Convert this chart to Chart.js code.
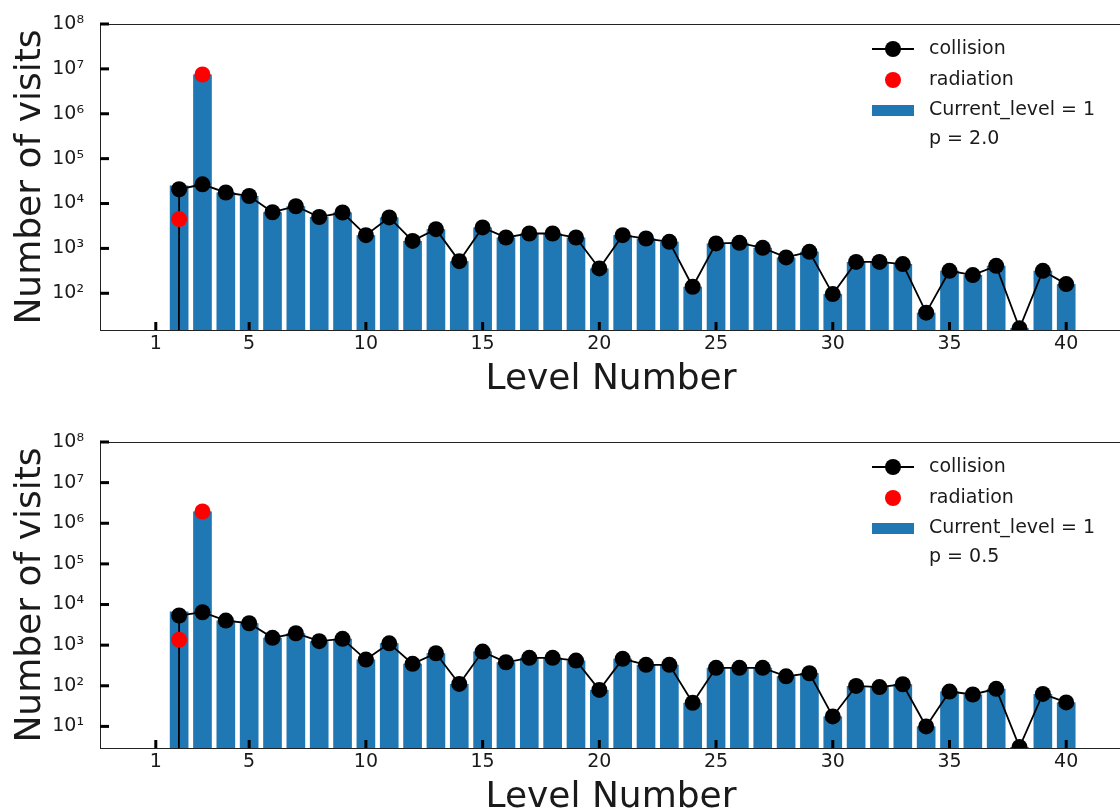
<!DOCTYPE html>
<html>
<head>
<meta charset="utf-8">
<script src="https://cdn.jsdelivr.net/npm/chart.js@4.4.1/dist/chart.umd.min.js"></script>
<style>
    html, body { margin: 0; padding: 0; overflow: hidden; background: #fff; }
    canvas { position: absolute; left: 0; }
</style>
</head>
<body>
<canvas id="topChart" width="1130" height="418" style="top:0px"></canvas>
<canvas id="bottomChart" width="1130" height="418" style="top:418px"></canvas>
<script>
// levels 1..40, level 1 is the current level (no visits)
const levels = [1, 2, 3, 4, 5, 6, 7, 8, 9, 10, 11, 12, 13, 14, 15, 16, 17, 18, 19, 20,
    21, 22, 23, 24, 25, 26, 27, 28, 29, 30, 31, 32, 33, 34, 35, 36, 37, 38, 39, 40];
const xTicks = [1, 5, 10, 15, 20, 25, 30, 35, 40];

// p = 2.0
const collisionTop = [0, 20800, 26800, 17600, 14700, 6400, 8700, 5000, 6300, 1970,
    4900, 1470, 2680, 520, 2930, 1750, 2150, 2150, 1750, 358,
    1970, 1660, 1400, 140, 1290, 1330, 1030, 630, 840, 96,
    500, 500, 447, 37, 317, 254, 409, 16.6, 317, 160];
const radiationTop = [0, 4500, 7500000, 0, 0, 0, 0, 0, 0, 0,
    0, 0, 0, 0, 0, 0, 0, 0, 0, 0,
    0, 0, 0, 0, 0, 0, 0, 0, 0, 0,
    0, 0, 0, 0, 0, 0, 0, 0, 0, 0];
const yTicksTop = [1e2, 1e3, 1e4, 1e5, 1e6, 1e7, 1e8];

// p = 0.5
const collisionBottom = [0, 5360, 6460, 4030, 3460, 1510, 1960, 1250, 1430, 442,
    1110, 346, 631, 111, 695, 379, 487, 487, 418, 79,
    460, 327, 327, 38, 276, 276, 276, 171, 203, 17.6,
    99, 93, 109, 10, 72, 61, 84, 3.1, 63, 39];
const radiationBottom = [0, 1350, 1950000, 0, 0, 0, 0, 0, 0, 0,
    0, 0, 0, 0, 0, 0, 0, 0, 0, 0,
    0, 0, 0, 0, 0, 0, 0, 0, 0, 0,
    0, 0, 0, 0, 0, 0, 0, 0, 0, 0];
const yTicksBottom = [1e1, 1e2, 1e3, 1e4, 1e5, 1e6, 1e7, 1e8];

Chart.defaults.font.family = 'DejaVu Sans';
Chart.defaults.color = '#1a1a1a';

const SUP = ['⁰', '¹', '²', '³', '⁴', '⁵', '⁶', '⁷', '⁸', '⁹'];
function powLabel(v) {
    const e = Math.round(Math.log10(v));
    return '10' + String(e).split('').map(d => SUP[+d]).join('');
}

// spines on all sides + inward tick marks
const axesDecor = {
    id: 'axesDecor',
    afterDatasetsDraw(chart) {
        const { ctx, chartArea: a, scales: { x, y } } = chart;
        ctx.save();
        ctx.strokeStyle = '#222';
        ctx.lineWidth = 1;
        ctx.strokeRect(a.left + 0.5, a.top + 0.5, a.right - a.left - 1, a.bottom - a.top);
        ctx.fillStyle = '#000';
        x.ticks.forEach(t => {
            const px = x.getPixelForValue(t.value);
            ctx.fillRect(px - 1.5, a.bottom - 8, 3, 8);
        });
        y.ticks.forEach(t => {
            const py = y.getPixelForValue(t.value);
            ctx.fillRect(a.left, py - 1.5, 9, 3);
        });
        ctx.restore();
    }
};

// legend drawn inside the axes, top right
const boxLegend = {
    id: 'boxLegend',
    afterDraw(chart, args, opts) {
        const { ctx, chartArea: a } = chart;
        const x0 = a.left + 772, x1 = x0 + 42, xm = (x0 + x1) / 2, tx = x0 + 57;
        const rows = [a.top + 25, a.top + 56, a.top + 86, a.top + 115];
        ctx.save();
        // collision
        ctx.strokeStyle = '#000';
        ctx.lineWidth = 1.8;
        ctx.beginPath();
        ctx.moveTo(x0, rows[0]);
        ctx.lineTo(x1, rows[0]);
        ctx.stroke();
        ctx.fillStyle = '#000';
        ctx.beginPath();
        ctx.arc(xm, rows[0], 8, 0, Math.PI * 2);
        ctx.fill();
        // radiation
        ctx.fillStyle = '#ff0000';
        ctx.beginPath();
        ctx.arc(xm, rows[1], 8, 0, Math.PI * 2);
        ctx.fill();
        // bars
        ctx.fillStyle = '#1f77b4';
        ctx.fillRect(x0, rows[2] - 5, x1 - x0, 11);

        ctx.fillStyle = '#1a1a1a';
        ctx.font = '19px "DejaVu Sans"';
        ctx.textBaseline = 'middle';
        ctx.textAlign = 'left';
        opts.labels.forEach((txt, i) => ctx.fillText(txt, tx, rows[i]));
        ctx.restore();
    }
};

function drawPanel(canvasId, collision, radiation, yMin, yTicks, pLabel) {
    const bars = levels.map((lv, i) => ({ x: lv, y: collision[i] + radiation[i] }));
    // matplotlib clips non-positive values on a log axis to a tiny number,
    // which is why the line drops straight down at level 2
    const line = levels.map((lv, i) => ({ x: lv, y: collision[i] > 0 ? collision[i] : 1e-300 }));
    const rad = levels.map((lv, i) => ({ x: lv, y: radiation[i] })).filter(p => p.y > 0);

    const ctx = document.getElementById(canvasId).getContext('2d');
    return new Chart(ctx, {
        type: 'bar',
        data: {
            datasets: [{
                type: 'line',
                label: 'collision',
                data: line,
                borderColor: '#000',
                borderWidth: 1.8,
                pointRadius: 8,
                pointBorderWidth: 0,
                pointBackgroundColor: '#000',
                clip: 0,
                order: 2
            }, {
                type: 'line',
                label: 'radiation',
                data: rad,
                showLine: false,
                pointRadius: 8,
                pointBorderWidth: 0,
                pointBackgroundColor: '#ff0000',
                order: 1
            }, {
                label: 'Current_level = 1',
                data: bars,
                backgroundColor: '#1f77b4',
                barPercentage: 0.8,
                categoryPercentage: 1.0,
                order: 3
            }]
        },
        options: {
            responsive: false,
            animation: false,
            layout: { padding: { top: 24, right: 2, left: 0, bottom: 0 } },
            plugins: {
                legend: { display: false },
                tooltip: { enabled: false },
                boxLegend: { labels: ['collision', 'radiation', 'Current_level = 1', pLabel] }
            },
            scales: {
                x: {
                    type: 'linear',
                    offset: false,
                    min: -1.39,
                    max: 42.39,
                    grid: { display: false, drawTicks: false, offset: false },
                    border: { display: false },
                    afterBuildTicks: s => { s.ticks = xTicks.map(v => ({ value: v })); },
                    afterFit: s => { s.height = 88; s.paddingLeft = 0; s.paddingRight = 0; },
                    ticks: {
                        autoSkip: false,
                        maxRotation: 0,
                        padding: 3,
                        font: { size: 19 },
                        callback: v => String(v)
                    },
                    title: {
                        display: true,
                        text: 'Level Number',
                        font: { size: 36 },
                        padding: { top: 0, bottom: 17 }
                    }
                },
                y: {
                    type: 'logarithmic',
                    min: yMin,
                    max: 1e8,
                    grid: { display: false, drawTicks: false },
                    border: { display: false },
                    afterBuildTicks: s => { s.ticks = yTicks.map(v => ({ value: v })); },
                    afterFit: s => { s.width = 100; s.paddingTop = 0; s.paddingBottom = 0; },
                    ticks: {
                        autoSkip: false,
                        padding: 16,
                        font: { size: 19 },
                        callback: v => powLabel(v)
                    },
                    title: {
                        display: true,
                        text: 'Number of visits',
                        font: { size: 36 },
                        padding: { top: 9, bottom: 0 }
                    }
                }
            }
        },
        plugins: [axesDecor, boxLegend]
    });
}

drawPanel('topChart', collisionTop, radiationTop, 15.2, yTicksTop, 'p = 2.0');
drawPanel('bottomChart', collisionBottom, radiationBottom, 2.94, yTicksBottom, 'p = 0.5');
</script>
</body>
</html>
